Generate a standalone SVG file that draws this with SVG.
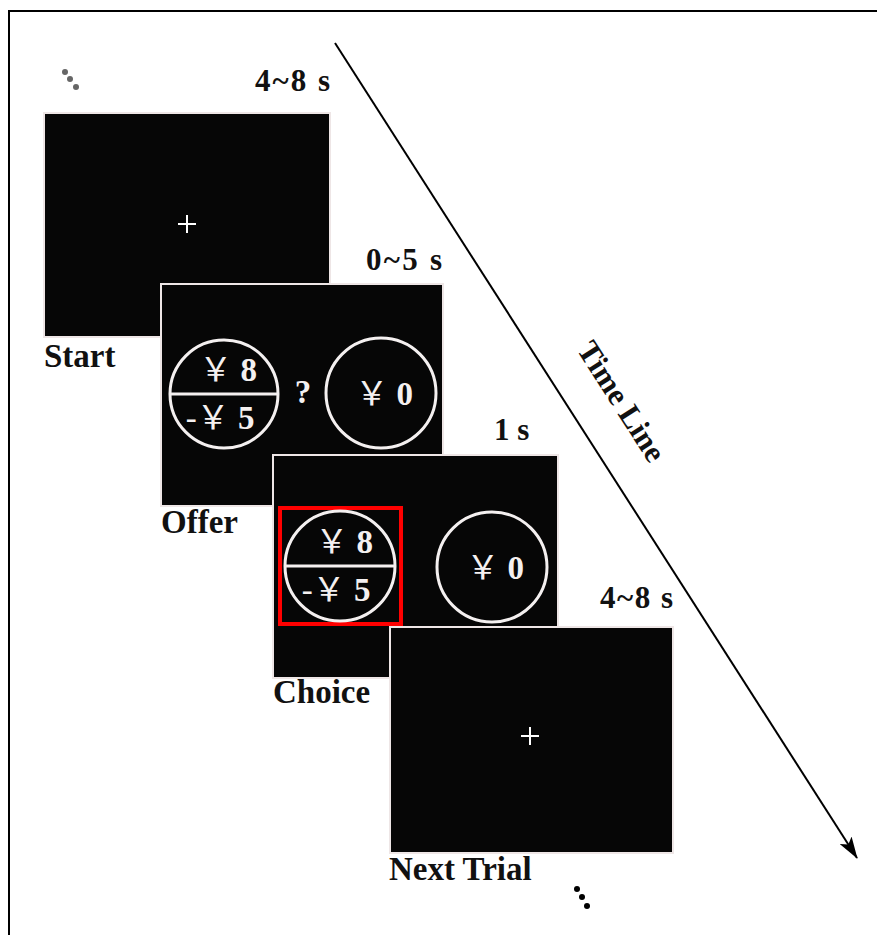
<svg xmlns="http://www.w3.org/2000/svg" width="877" height="935" viewBox="0 0 877 935">
<style>
.screen{fill:#060606;stroke:#eee6e6;stroke-width:2}
.lbl{font-family:"Liberation Serif",serif;font-weight:bold;font-size:33px;fill:#111}
.dur{font-family:"Liberation Serif",serif;font-weight:bold;font-size:31px;fill:#111}
.cir{fill:none;stroke:#f4f0f0;stroke-width:3}
.val{font-family:"Liberation Serif","Noto Sans CJK SC",serif;font-size:33px;fill:#f4f0f0;text-anchor:middle}
.val tspan.d{font-weight:bold}
.cross{stroke:#fff;stroke-width:2}
</style>
<defs>
<marker id="arr" markerWidth="22" markerHeight="14" refX="21" refY="7" orient="auto" markerUnits="userSpaceOnUse">
<path d="M0,0 L22,7 L0,14 L5,7 Z" fill="#000"/>
</marker>
</defs>
<rect x="9" y="11" width="900" height="960" fill="none" stroke="#000" stroke-width="2"/>
<g id="connectors">
<line x1="335" y1="43" x2="857" y2="858" stroke="#000" stroke-width="2" marker-end="url(#arr)"/>
<text x="613" y="407" transform="rotate(57.4 613 407)" class="dur" text-anchor="middle" font-size="32">Time Line</text>
</g>
<g id="dots-top" fill="#666">
<circle cx="65" cy="72" r="3"/><circle cx="70" cy="79" r="3"/><circle cx="76" cy="87" r="3"/>
</g>
<g id="start">
<text x="255" y="91" class="dur" textLength="75">4~8 s</text>
<rect x="44" y="113" width="286" height="224" class="screen"/>
<line x1="178" y1="224" x2="196" y2="224" class="cross"/><line x1="187" y1="215" x2="187" y2="233" class="cross"/>
<text x="44" y="367" class="lbl">Start</text>
</g>
<g id="offer">
<text x="366" y="270" class="dur" textLength="76">0~5 s</text>
<rect x="161" y="284" width="282" height="222" class="screen"/>
<circle cx="224" cy="394" r="54" class="cir"/>
<line x1="170" y1="394" x2="278" y2="394" class="cir"/>
<text x="228" y="381" class="val">￥ <tspan class="d">8</tspan></text>
<text x="220" y="429" class="val">-￥ <tspan class="d">5</tspan></text>
<text x="303" y="403" class="val" font-weight="bold" font-size="28">?</text>
<circle cx="381" cy="393" r="55" class="cir"/>
<text x="384" y="405" class="val">￥ <tspan class="d">0</tspan></text>
<text x="161" y="533" class="lbl">Offer</text>
</g>
<g id="choice">
<text x="494" y="440" class="dur">1 s</text>
<rect x="273" y="455" width="285" height="223" class="screen"/>
<rect x="280" y="508" width="121" height="116" fill="none" stroke="#f00" stroke-width="4"/>
<circle cx="340" cy="566" r="55" class="cir"/>
<line x1="285" y1="566" x2="395" y2="566" class="cir"/>
<text x="344" y="553" class="val">￥ <tspan class="d">8</tspan></text>
<text x="336" y="601" class="val">-￥ <tspan class="d">5</tspan></text>
<circle cx="492" cy="567" r="55" class="cir"/>
<text x="495" y="579" class="val">￥ <tspan class="d">0</tspan></text>
<text x="273" y="703" class="lbl">Choice</text>
</g>
<g id="next-trial">
<text x="600" y="608" class="dur" textLength="73">4~8 s</text>
<rect x="390" y="627" width="283" height="226" class="screen" fill="#000"/>
<line x1="521" y1="736" x2="539" y2="736" class="cross"/><line x1="530" y1="727" x2="530" y2="745" class="cross"/>
<text x="389" y="880" class="lbl">Next Trial</text>
</g>
<g id="dots-bottom" fill="#000">
<circle cx="577" cy="889" r="3"/><circle cx="582" cy="897" r="3"/><circle cx="587" cy="906" r="3"/>
</g>
</svg>
